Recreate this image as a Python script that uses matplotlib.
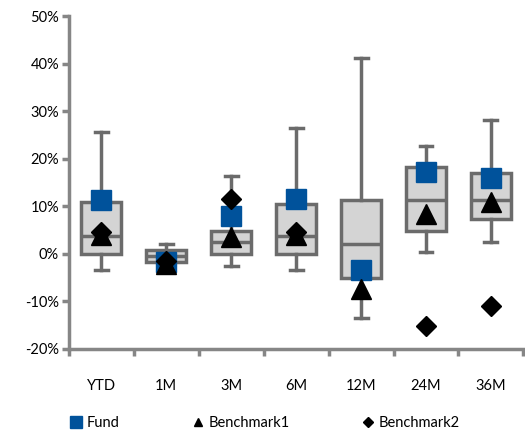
import numpy as np
import matplotlib
matplotlib.use("Agg")
import matplotlib.pyplot as plt
from matplotlib.lines import Line2D
from matplotlib.ticker import FuncFormatter

categories = ["YTD", "1M", "3M", "6M", "12M", "24M", "36M"]
whisker_low = [-3.4, -3.0, -2.5, -3.4, -13.4, 0.4, 2.5]
box_low = [0.0, -1.7, 0.0, 0.0, -5.1, 4.9, 7.4]
median = [3.7, -0.4, 2.5, 3.7, 2.1, 11.3, 11.3]
box_high = [10.9, 0.9, 4.8, 10.5, 11.3, 18.2, 17.0]
whisker_high = [25.6, 2.1, 16.4, 26.4, 41.1, 22.7, 28.1]
fund = [11.4, -1.7, 8.0, 11.5, -3.5, 17.2, 16.0]
benchmark1 = [3.9, -2.2, 3.5, 3.9, -7.4, 8.4, 10.9]
benchmark2 = [4.6, -1.6, 11.6, 4.6, np.nan, -15.2, -11.0]

plt.rcParams['font.family'] = ['Lato', 'DejaVu Sans']
fig = plt.figure(figsize=(5.25, 4.34), dpi=100)
ax = fig.add_axes([0.131, 0.196, 0.866, 0.767])

x = np.arange(len(categories))
stats = []
for i, c in enumerate(categories):
    stats.append(dict(med=median[i], q1=box_low[i], q3=box_high[i],
                      whislo=whisker_low[i], whishi=whisker_high[i], label=c))
edge = '#6b6b6b'
ax.bxp(stats, positions=x, widths=0.62, showfliers=False, patch_artist=True,
       boxprops=dict(facecolor='#d4d4d4', edgecolor=edge, linewidth=2.5),
       medianprops=dict(color=edge, linewidth=2.5),
       whiskerprops=dict(color=edge, linewidth=2.5),
       capprops=dict(color=edge, linewidth=2.5), capwidths=0.2, zorder=2)

ax.plot(x, fund, linestyle='none', marker='s', markersize=14, color='#00529b', zorder=3)
ax.plot(x, benchmark1, linestyle='none', marker='^', markersize=14, color='black', zorder=4)
ax.plot(x, benchmark2, linestyle='none', marker='D', markersize=10, color='black', zorder=4)

ax.set_ylim(-20, 50)
ax.set_yticks(np.arange(-20, 51, 10))
ax.yaxis.set_major_formatter(FuncFormatter(lambda v, p: f"{int(v)}%"))
ax.set_xlim(-0.5, len(categories) - 0.5)
ax.set_xticks(x)
ax.set_xticklabels(categories)
ax.set_xticks(np.arange(-0.5, len(categories), 1.0), minor=True)
ax.tick_params(axis='x', which='major', length=0, pad=22, labelsize=10.5)
ax.tick_params(axis='x', which='minor', length=5, width=2.5, color='#868686')
ax.tick_params(axis='y', length=5, width=2.5, color='#868686', labelsize=10.5, pad=2)
for s in ['top', 'right']:
    ax.spines[s].set_visible(False)
for s in ['left', 'bottom']:
    ax.spines[s].set_color('#868686')
    ax.spines[s].set_linewidth(2.5)

handles = [Line2D([], [], linestyle='none', marker='s', markersize=8, color='#00529b'),
           Line2D([], [], linestyle='none', marker='^', markersize=6, color='black'),
           Line2D([], [], linestyle='none', marker='D', markersize=5, color='black')]
fig.legend(handles, ['Fund', 'Benchmark1', 'Benchmark2'], loc='center',
           bbox_to_anchor=(0.505, 0.025), ncol=3, frameon=False, fontsize=10.5,
           handlelength=0.8, handletextpad=0.3, columnspacing=5.0)

fig.savefig('out.png', dpi=100)
